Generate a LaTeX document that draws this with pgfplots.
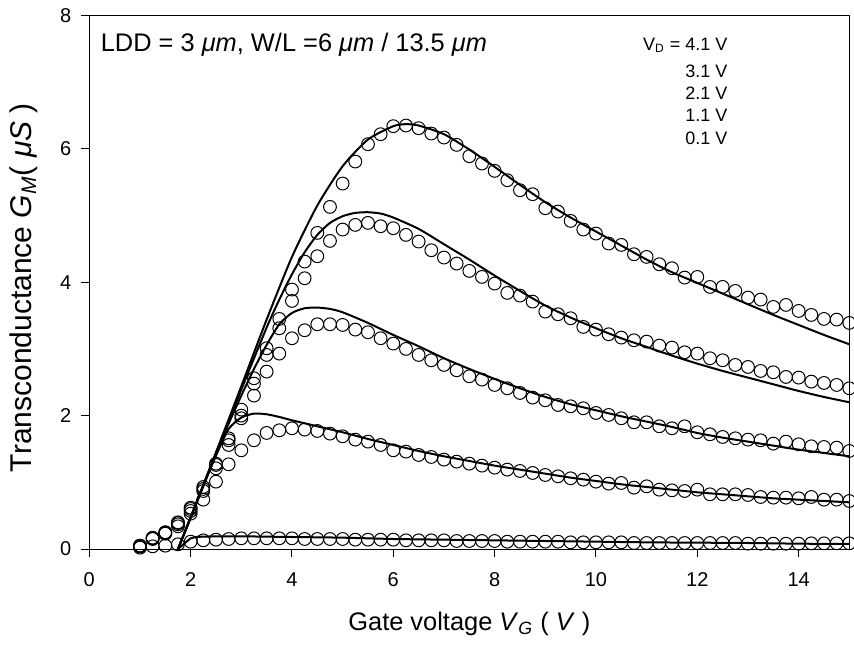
\documentclass[border=0pt]{standalone}
\usepackage{fontspec}
\setmainfont{Liberation Sans}
\usepackage{pgfplots}
\usepackage{pgfplotstable}
\pgfplotsset{compat=1.18}
\pgfplotstableread{
x a b c d e
1.00 0.05 0.05 0.04 0.04 0.02
1.25 0.17 0.16 0.16 0.15 0.04
1.50 0.25 0.25 0.24 0.23 0.05
1.75 0.40 0.39 0.37 0.34 0.07
2.00 0.62 0.60 0.57 0.53 0.11
2.25 0.93 0.90 0.87 0.74 0.13
2.50 1.28 1.26 1.21 1.01 0.14
2.75 1.66 1.63 1.56 1.27 0.15
3.00 2.09 2.00 1.96 1.48 0.16
3.25 2.56 2.48 2.30 1.63 0.16
3.50 3.01 2.91 2.66 1.74 0.16
3.75 3.45 3.31 2.93 1.78 0.16
4.00 3.89 3.72 3.16 1.81 0.16
4.25 4.31 4.06 3.28 1.79 0.15
4.50 4.74 4.39 3.37 1.77 0.15
4.75 5.13 4.62 3.37 1.73 0.15
5.00 5.48 4.79 3.36 1.69 0.15
5.25 5.81 4.86 3.29 1.64 0.14
5.50 6.07 4.89 3.25 1.61 0.14
5.75 6.22 4.84 3.16 1.56 0.14
6.00 6.34 4.81 3.08 1.48 0.14
6.25 6.35 4.71 3.00 1.46 0.13
6.50 6.31 4.61 2.91 1.41 0.13
6.75 6.23 4.48 2.83 1.38 0.13
7.00 6.17 4.37 2.76 1.34 0.13
7.25 6.06 4.28 2.68 1.31 0.12
7.50 5.89 4.17 2.59 1.28 0.12
7.75 5.78 4.08 2.54 1.25 0.12
8.00 5.67 3.98 2.46 1.22 0.12
8.25 5.53 3.84 2.41 1.19 0.11
8.50 5.38 3.80 2.34 1.17 0.11
8.75 5.32 3.71 2.27 1.14 0.11
9.00 5.11 3.56 2.23 1.11 0.11
9.25 5.06 3.52 2.16 1.09 0.11
9.50 4.92 3.46 2.14 1.06 0.10
9.75 4.79 3.33 2.11 1.04 0.10
10.00 4.73 3.29 2.04 1.01 0.10
10.25 4.58 3.22 2.01 0.98 0.10
10.50 4.56 3.17 1.96 0.99 0.10
10.75 4.42 3.13 1.90 0.92 0.09
11.00 4.38 3.11 1.90 0.94 0.09
11.25 4.27 3.05 1.84 0.89 0.09
11.50 4.21 3.02 1.81 0.88 0.09
11.75 4.07 2.95 1.84 0.87 0.09
12.00 4.08 2.93 1.75 0.89 0.09
12.25 3.93 2.86 1.72 0.82 0.09
12.50 3.93 2.83 1.68 0.82 0.09
12.75 3.87 2.76 1.66 0.82 0.09
13.00 3.77 2.73 1.64 0.81 0.08
13.25 3.74 2.67 1.63 0.78 0.08
13.50 3.63 2.65 1.58 0.77 0.08
13.75 3.66 2.58 1.61 0.77 0.08
14.00 3.57 2.57 1.57 0.76 0.08
14.25 3.51 2.51 1.54 0.78 0.085
14.50 3.45 2.49 1.53 0.74 0.085
14.75 3.44 2.46 1.52 0.74 0.085
15.00 3.39 2.41 1.47 0.72 0.085
}\meas
\pgfplotstableread{
x y
1.75 0
2.00 0.48
2.50 1.45
3.00 2.44
3.50 3.44
4.00 4.38
4.50 5.15
5.00 5.74
5.50 6.14
6.00 6.34
6.25 6.37
6.50 6.35
7.00 6.22
7.50 5.99
8.00 5.73
8.50 5.46
9.00 5.20
9.50 4.97
10.00 4.76
10.50 4.55
11.00 4.34
11.50 4.15
12.00 3.99
12.50 3.83
13.00 3.67
13.50 3.51
14.00 3.36
14.50 3.21
15.00 3.07
}\la
\pgfplotstableread{
x y
1.75 0
2.00 0.47
2.50 1.43
3.00 2.39
3.50 3.32
3.75 3.74
4.00 4.12
4.25 4.45
4.50 4.71
4.75 4.89
5.00 4.99
5.25 5.04
5.50 5.05
5.75 5.03
6.00 4.97
6.50 4.80
7.00 4.57
7.50 4.34
8.00 4.10
8.50 3.87
9.00 3.65
9.50 3.47
10.00 3.31
10.50 3.16
11.00 3.03
11.50 2.90
12.00 2.78
12.50 2.67
13.00 2.57
13.50 2.47
14.00 2.37
14.50 2.28
15.00 2.20
}\lb
\pgfplotstableread{
x y
1.75 0
2.00 0.47
2.50 1.42
2.75 1.88
3.00 2.30
3.25 2.70
3.50 3.06
3.75 3.37
4.00 3.54
4.25 3.61
4.50 3.62
4.75 3.60
5.00 3.55
5.50 3.39
6.00 3.21
6.50 3.04
7.00 2.86
7.50 2.70
8.00 2.55
8.50 2.41
9.00 2.28
9.50 2.17
10.00 2.08
10.50 1.99
11.00 1.91
11.50 1.83
12.00 1.74
12.50 1.67
13.00 1.61
13.50 1.55
14.00 1.49
14.50 1.44
15.00 1.39
}\lc
\pgfplotstableread{
x y
1.75 0
2.00 0.47
2.25 0.95
2.50 1.40
2.75 1.80
3.00 1.97
3.25 2.03
3.50 2.02
3.75 1.98
4.00 1.93
4.50 1.84
5.00 1.75
5.50 1.65
6.00 1.56
6.50 1.47
7.00 1.39
7.50 1.32
8.00 1.25
8.50 1.19
9.00 1.13
9.50 1.07
10.00 1.02
10.50 0.97
11.00 0.93
11.50 0.89
12.00 0.85
12.50 0.82
13.00 0.79
13.50 0.76
14.00 0.74
14.50 0.72
15.00 0.70
}\ld
\pgfplotstableread{
x y
1.75 0
2.00 0.16
2.10 0.18
2.50 0.19
3.00 0.19
4.00 0.18
5.00 0.17
6.00 0.15
7.00 0.14
8.00 0.13
9.00 0.12
10.00 0.11
11.00 0.10
12.00 0.095
13.00 0.09
14.00 0.08
15.00 0.075
}\le
\begin{document}
\begin{tikzpicture}[x=1pt,y=1pt]
\useasboundingbox (0,0) rectangle (427,323);
\begin{axis}[
  at={(44.65pt,48.5pt)}, anchor=south west,
  scale only axis, width=380pt, height=266.75pt,
  xmin=0, xmax=15, ymin=0, ymax=8,
  xtick={0,2,...,14}, ytick={0,2,...,8},
  xticklabels={}, yticklabels={},
  tick align=outside, xtick pos=bottom, ytick pos=left,
  major tick length=4pt,
  axis line style={line width=0.5pt},
  every tick/.style={black, line width=0.5pt},
  xlabel={Gate voltage \textit{V}\textsubscript{\textit{G}} ( \textit{V} )},
  ylabel={Transconductance \textit{G}\textsubscript{\textit{M}}( \textit{μS} )},
  xlabel style={font=\fontsize{12.7}{14}\selectfont, at={(axis description cs:0.5,-0.152)}, anchor=base},
  ylabel style={font=\fontsize{15}{17}\selectfont, at={(axis description cs:-0.0758,0.49)}, anchor=base},
  clip=false,
]
\addplot[black, line width=1pt, smooth, tension=0.4] table[x=x,y=y] {\la};
\addplot[black, line width=1pt, smooth, tension=0.4] table[x=x,y=y] {\lb};
\addplot[black, line width=1pt, smooth, tension=0.4] table[x=x,y=y] {\lc};
\addplot[black, line width=1pt, smooth, tension=0.4] table[x=x,y=y] {\ld};
\addplot[black, line width=1pt, smooth, tension=0.4] table[x=x,y=y] {\le};
\addplot[black, only marks, mark=o, mark size=3.2pt, mark options={line width=0.5pt}] table[x=x,y=a] {\meas};
\addplot[black, only marks, mark=o, mark size=3.2pt, mark options={line width=0.5pt}] table[x=x,y=b] {\meas};
\addplot[black, only marks, mark=o, mark size=3.2pt, mark options={line width=0.5pt}] table[x=x,y=c] {\meas};
\addplot[black, only marks, mark=o, mark size=3.2pt, mark options={line width=0.5pt}] table[x=x,y=d] {\meas};
\addplot[black, only marks, mark=o, mark size=3.2pt, mark options={line width=0.5pt}] table[x=x,y=e] {\meas};
\pgfplotsinvokeforeach{0,2,4,6,8,10,12,14}{\node[anchor=base, inner sep=0pt, yshift=-18.75pt, font=\fontsize{10}{12}\selectfont] at (axis cs:#1,0) {#1};}
\pgfplotsinvokeforeach{0,2,4,6,8}{\node[anchor=east, inner sep=0pt, xshift=-8.8pt, font=\fontsize{10}{12}\selectfont] at (axis cs:0,#1) {#1};}
\node[anchor=base west, inner sep=0pt, font=\fontsize{12.7}{14}\selectfont] at (axis cs:0.22,7.456) {LDD = 3 \textit{μm}, W/L =6 \textit{μm} / 13.5 \textit{μm}};
\node[anchor=base east, inner sep=0pt, font=\fontsize{9}{10}\selectfont] at (axis cs:12.6,7.47) {V\textsubscript{D} = 4.1 V};
\node[anchor=base east, inner sep=0pt, font=\fontsize{9}{10}\selectfont] at (axis cs:12.6,7.07) {3.1 V};
\node[anchor=base east, inner sep=0pt, font=\fontsize{9}{10}\selectfont] at (axis cs:12.6,6.74) {2.1 V};
\node[anchor=base east, inner sep=0pt, font=\fontsize{9}{10}\selectfont] at (axis cs:12.6,6.41) {1.1 V};
\node[anchor=base east, inner sep=0pt, font=\fontsize{9}{10}\selectfont] at (axis cs:12.6,6.07) {0.1 V};
\end{axis}
\end{tikzpicture}
\end{document}
